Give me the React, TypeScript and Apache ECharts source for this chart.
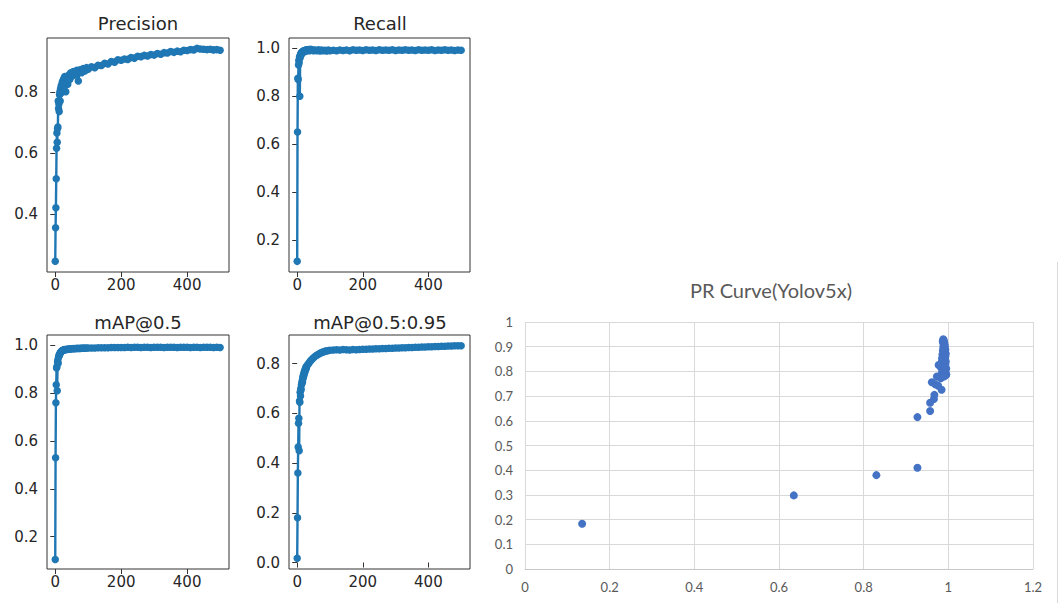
import React, { useEffect, useRef } from "react";
import * as echarts from "echarts";

// ---------- data ----------
const epochs = [
  0, 1, 2, 3, 4, 5, 6, 7, 8, 9, 10, 11, 12, 13, 14, 15, 16, 17, 18, 19, 20, 21, 22, 23, 24, 25, 26, 27, 28, 29,
  32, 35, 38, 41, 44, 47, 50,
  55, 60, 65, 70, 75, 80, 85, 90, 95, 100,
  110, 120, 130, 140, 150, 160, 170, 180, 190, 200,
  210, 220, 230, 240, 250, 260, 270, 280, 290, 300,
  310, 320, 330, 340, 350, 360, 370, 380, 390, 400,
  410, 420, 430, 440, 450, 460, 470, 480, 490, 500,
];

const precision = [
  0.245, 0.355, 0.42, 0.515, 0.615, 0.665, 0.635, 0.68, 0.685, 0.77,
  0.745, 0.76, 0.735, 0.79, 0.8, 0.77, 0.81, 0.795, 0.82, 0.8,
  0.815, 0.83, 0.805, 0.835, 0.82, 0.84, 0.81, 0.845, 0.83, 0.85,
  0.8, 0.845, 0.825, 0.855, 0.84, 0.862, 0.85,
  0.866, 0.855, 0.87, 0.835, 0.872, 0.862, 0.876, 0.868, 0.879, 0.874,
  0.882, 0.879, 0.887, 0.886, 0.893, 0.891, 0.899, 0.897, 0.905, 0.903,
  0.907, 0.906, 0.912, 0.91, 0.916, 0.915, 0.919, 0.917, 0.922, 0.92,
  0.925, 0.923, 0.928, 0.927, 0.932, 0.929, 0.933, 0.931, 0.936, 0.935,
  0.938, 0.937, 0.942, 0.94, 0.939, 0.938, 0.939, 0.937, 0.938, 0.936,
];

const recall = [
  0.11, 0.65, 0.875, 0.87, 0.93, 0.95, 0.94, 0.965, 0.8, 0.96,
  0.975, 0.97, 0.98, 0.975, 0.983, 0.985, 0.98, 0.987, 0.984, 0.989,
  0.986, 0.99, 0.988, 0.991, 0.987, 0.992, 0.989, 0.993, 0.99, 0.994,
  0.991, 0.995, 0.99, 0.996, 0.992, 0.994, 0.99,
  0.993, 0.99, 0.994, 0.989, 0.993, 0.99, 0.992, 0.989, 0.993, 0.99,
  0.992, 0.99, 0.993, 0.991, 0.993, 0.99, 0.994, 0.992, 0.993, 0.991,
  0.994, 0.992, 0.993, 0.991, 0.994, 0.992, 0.993, 0.992, 0.994, 0.991,
  0.993, 0.992, 0.994, 0.992, 0.993, 0.991, 0.994, 0.992, 0.993, 0.992,
  0.994, 0.991, 0.993, 0.992, 0.994, 0.992, 0.993, 0.991, 0.993, 0.992,
];

const map50 = [
  0.105, 0.53, 0.76, 0.835, 0.905, 0.91, 0.81, 0.93, 0.94, 0.925,
  0.95, 0.955, 0.96, 0.958, 0.965, 0.968, 0.97, 0.972, 0.973, 0.975,
  0.976, 0.977, 0.978, 0.978, 0.979, 0.98, 0.98, 0.981, 0.981, 0.982,
  0.982, 0.983, 0.983, 0.984, 0.984, 0.985, 0.985,
  0.986, 0.986, 0.987, 0.987, 0.987, 0.988, 0.988, 0.988, 0.989, 0.989,
  0.989, 0.989, 0.99, 0.99, 0.99, 0.99, 0.991, 0.991, 0.991, 0.991,
  0.991, 0.992, 0.991, 0.992, 0.992, 0.991, 0.992, 0.992, 0.991, 0.992,
  0.992, 0.992, 0.991, 0.992, 0.992, 0.992, 0.991, 0.992, 0.992, 0.992,
  0.991, 0.992, 0.992, 0.991, 0.992, 0.992, 0.992, 0.991, 0.992, 0.991,
];

const map5095 = [
  0.017, 0.18, 0.36, 0.465, 0.56, 0.58, 0.45, 0.65, 0.645, 0.685,
  0.67, 0.7, 0.695, 0.715, 0.72, 0.73, 0.725, 0.745, 0.74, 0.755,
  0.75, 0.765, 0.76, 0.772, 0.768, 0.78, 0.776, 0.786, 0.782, 0.79,
  0.795, 0.8, 0.806, 0.811, 0.815, 0.82, 0.824,
  0.83, 0.834, 0.838, 0.842, 0.845, 0.847, 0.85, 0.851, 0.853, 0.854,
  0.855, 0.856, 0.855, 0.857, 0.856, 0.855, 0.857, 0.856, 0.857, 0.858,
  0.858, 0.859, 0.859, 0.86, 0.86, 0.861, 0.861, 0.862, 0.862, 0.863,
  0.863, 0.864, 0.864, 0.865, 0.865, 0.866, 0.866, 0.867, 0.867, 0.868,
  0.868, 0.869, 0.869, 0.87, 0.87, 0.871, 0.871, 0.872, 0.872, 0.872,
];

// PR curve (x = recall, y = precision)
const prRecall = [
  0.135, 0.635, 0.83, 0.927, 0.927, 0.957, 0.957, 0.966, 0.967, 0.961,
  0.969, 0.984, 0.976, 0.973, 0.982, 0.977, 0.995,
  0.988, 0.989, 0.987, 0.99, 0.988, 0.991, 0.989, 0.992, 0.988, 0.99,
  0.993, 0.987, 0.991, 0.989, 0.994, 0.986, 0.99, 0.993, 0.988, 0.985,
  0.992, 0.989, 0.994, 0.984, 0.99, 0.993, 0.981, 0.987, 0.991, 0.995,
  0.983, 0.988, 0.992, 0.986, 0.99, 0.994, 0.984, 0.995, 0.988, 0.98,
  0.985, 0.991,
];
const prPrecision = [
  0.183, 0.298, 0.38, 0.41, 0.615, 0.64, 0.673, 0.688, 0.705, 0.756,
  0.748, 0.726, 0.742, 0.779, 0.772, 0.826, 0.788,
  0.93, 0.926, 0.922, 0.918, 0.914, 0.91, 0.905, 0.9, 0.896, 0.892,
  0.888, 0.884, 0.88, 0.876, 0.872, 0.868, 0.864, 0.86, 0.856, 0.852,
  0.848, 0.844, 0.84, 0.836, 0.832, 0.828, 0.826, 0.822, 0.818, 0.812,
  0.815, 0.808, 0.804, 0.8, 0.796, 0.792, 0.79, 0.786, 0.784, 0.78,
  0.776, 0.78,
];

const epochTicks = [0, 200, 400];
const precisionTicks = [0.4, 0.6, 0.8];
const unitTicks = [0.2, 0.4, 0.6, 0.8, 1.0];
const map5095Ticks = [0.0, 0.2, 0.4, 0.6, 0.8];

// ---------- layout ----------
const panels = [
  { title: "Precision", values: precision, ticks: precisionTicks, yMin: 0.21, yMax: 0.976, left: 47, top: 38, width: 182, height: 234, tx: 138, ty: 23 },
  { title: "Recall", values: recall, ticks: unitTicks, yMin: 0.0656, yMax: 1.043, left: 289, top: 38, width: 181, height: 234, tx: 380, ty: 23 },
  { title: "mAP@0.5", values: map50, ticks: unitTicks, yMin: 0.065, yMax: 1.043, left: 47, top: 335, width: 182, height: 234, tx: 138, ty: 322 },
  { title: "mAP@0.5:0.95", values: map5095, ticks: map5095Ticks, yMin: -0.026, yMax: 0.915, left: 289, top: 335, width: 181, height: 234, tx: 380, ty: 322 },
];

const MPL_FONT = "DejaVu Sans";
const MPL_TEXT = "#262626";
const MPL_BLUE = "#1f77b4";

export default function App() {
  const ref = useRef<HTMLDivElement>(null);

  useEffect(() => {
    if (!ref.current) return;
    const chart = echarts.init(ref.current, undefined, { renderer: "svg" });

    const grids: any[] = [];
    const xAxes: any[] = [];
    const yAxes: any[] = [];
    const series: any[] = [];
    const graphics: any[] = [];

    panels.forEach((p, i) => {
      grids.push({
        left: p.left, top: p.top, width: p.width, height: p.height,
        show: true, borderColor: "#333", borderWidth: 1, backgroundColor: "#fff",
        outerBoundsMode: "none", containLabel: false,
      });
      xAxes.push({
        gridIndex: i, type: "value", min: -25, max: 527,
        axisLine: { show: false },
        splitLine: { show: false },
        axisTick: { show: true, inside: false, length: 5, customValues: epochTicks, lineStyle: { color: "#333", width: 1 } },
        axisLabel: { customValues: epochTicks, color: MPL_TEXT, fontFamily: MPL_FONT, fontSize: 15, margin: 5, formatter: (v: number) => String(v) },
      });
      yAxes.push({
        gridIndex: i, type: "value", min: p.yMin, max: p.yMax,
        axisLine: { show: false },
        splitLine: { show: false },
        axisTick: { show: true, inside: false, length: 5, customValues: p.ticks, lineStyle: { color: "#333", width: 1 } },
        axisLabel: { customValues: p.ticks, color: MPL_TEXT, fontFamily: MPL_FONT, fontSize: 15, margin: 9, formatter: (v: number) => v.toFixed(1) },
      });
      series.push({
        type: "line", name: p.title, xAxisIndex: i, yAxisIndex: i,
        data: epochs.map((e, j) => [e, p.values[j]]),
        symbol: "circle", symbolSize: 7.5, showSymbol: true,
        lineStyle: { color: MPL_BLUE, width: 2.4 },
        itemStyle: { color: MPL_BLUE },
        z: 3,
      });
      graphics.push({
        type: "text", x: p.tx, y: p.ty,
        style: { text: p.title, fill: MPL_TEXT, font: `18px "${MPL_FONT}"`, textAlign: "center", textVerticalAlign: "middle", align: "center", verticalAlign: "middle" },
      });
    });

    // Excel-style PR curve
    grids.push({ left: 525, top: 322, width: 508, height: 247, show: false, outerBoundsMode: "none", containLabel: false });
    xAxes.push({
      gridIndex: 4, type: "value", min: 0, max: 1.2, interval: 0.2,
      axisLine: { show: true, lineStyle: { color: "#c8c8c8", width: 1 } },
      axisTick: { show: false },
      splitLine: { show: true, lineStyle: { color: "#d9d9d9", width: 1 } },
      axisLabel: { color: "#595959", fontFamily: "Lato", fontSize: 13, margin: 11 },
    });
    yAxes.push({
      gridIndex: 4, type: "value", min: 0, max: 1, interval: 0.1,
      axisLine: { show: false },
      axisTick: { show: false },
      splitLine: { show: true, lineStyle: { color: "#d9d9d9", width: 1 } },
      axisLabel: { color: "#595959", fontFamily: "Lato", fontSize: 13, margin: 12 },
    });
    series.push({
      type: "scatter", name: "PR", xAxisIndex: 4, yAxisIndex: 4,
      data: prRecall.map((r, i) => [r, prPrecision[i]]),
      symbol: "circle", symbolSize: 8,
      itemStyle: { color: "#4472c4", opacity: 1 },
    });
    graphics.push({
      type: "text", x: 771, y: 290,
      style: { text: "PR Curve(Yolov5x)", fill: "#595959", font: '20px "Lato"', textAlign: "center", textVerticalAlign: "middle", align: "center", verticalAlign: "middle" },
    });
    graphics.push({
      type: "line", shape: { x1: 1057.5, y1: 262, x2: 1057.5, y2: 603 },
      style: { stroke: "#d9d9d9", lineWidth: 1 },
    });

    chart.setOption({
      animation: false,
      backgroundColor: "#fff",
      grid: grids,
      xAxis: xAxes,
      yAxis: yAxes,
      series,
      graphic: graphics,
    });

    return () => chart.dispose();
  }, []);

  return (
    <div
      ref={ref}
      style={{ position: "fixed", left: 0, top: 0, width: 1060, height: 603 }}
    />
  );
}
